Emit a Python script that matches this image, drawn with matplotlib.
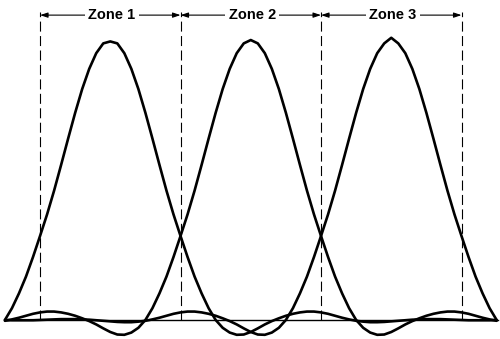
import numpy as np
import matplotlib
matplotlib.use("Agg")
import matplotlib.pyplot as plt

# positions along the strip, zone boundaries at 0, 1, 2, 3
pos = np.round(np.arange(-0.25, 3.2501, 0.05), 2)

zone_edges = [0, 1, 2, 3]
zone_labels = ["Zone 1", "Zone 2", "Zone 3"]

# response of each zone (peak = 1)
zone1 = [0.000, 0.042, 0.095, 0.155, 0.225, 0.300, 0.377, 0.462, 0.554, 0.648,
         0.740, 0.825, 0.897, 0.953, 0.988, 0.995, 0.988, 0.953, 0.897, 0.825,
         0.740, 0.648, 0.554, 0.462, 0.377, 0.300, 0.225, 0.155, 0.095, 0.042,
         0.000, -0.028, -0.045, -0.053, -0.052, -0.043, -0.030, -0.016, -0.004, 0.006,
         0.015, 0.022, 0.027, 0.030, 0.030, 0.027, 0.022, 0.015, 0.008, 0.002,
         -0.003, -0.006, -0.008, -0.008, -0.007, -0.005, -0.003, -0.001, 0.001, 0.002,
         0.003, 0.003, 0.003, 0.002, 0.001, 0.000, -0.001, -0.001, -0.001, -0.001,
         0.000]

zone2 = [-0.003, 0.002, 0.008, 0.015, 0.022, 0.027, 0.030, 0.030, 0.027, 0.022,
         0.015, 0.006, -0.004, -0.016, -0.030, -0.043, -0.052, -0.053, -0.045, -0.028,
         0.000, 0.042, 0.095, 0.155, 0.225, 0.300, 0.377, 0.462, 0.554, 0.648,
         0.740, 0.825, 0.897, 0.953, 0.988, 1.000, 0.988, 0.953, 0.897, 0.825,
         0.740, 0.648, 0.554, 0.462, 0.377, 0.300, 0.225, 0.155, 0.095, 0.042,
         0.000, -0.028, -0.045, -0.053, -0.052, -0.043, -0.030, -0.016, -0.004, 0.006,
         0.015, 0.022, 0.027, 0.030, 0.030, 0.027, 0.022, 0.015, 0.008, 0.002,
         -0.003]

zone3 = [0.000, -0.001, -0.001, -0.001, -0.001, 0.000, 0.001, 0.002, 0.003, 0.003,
         0.003, 0.002, 0.001, -0.001, -0.003, -0.005, -0.007, -0.008, -0.008, -0.006,
         -0.003, 0.002, 0.008, 0.015, 0.022, 0.027, 0.030, 0.030, 0.027, 0.022,
         0.015, 0.006, -0.004, -0.016, -0.030, -0.043, -0.052, -0.053, -0.045, -0.028,
         0.000, 0.042, 0.095, 0.155, 0.225, 0.300, 0.377, 0.462, 0.554, 0.648,
         0.740, 0.825, 0.897, 0.953, 0.988, 1.008, 0.988, 0.953, 0.897, 0.825,
         0.740, 0.648, 0.554, 0.462, 0.377, 0.300, 0.225, 0.155, 0.095, 0.042,
         0.000]

fig = plt.figure(figsize=(5.0, 3.39), dpi=100)
ax = fig.add_axes([0, 0, 1, 1])
ax.set_xlim(-0.285, 3.274)
ax.set_ylim(-0.068, 1.143)
ax.axis("off")

# baseline
ax.plot([-0.25, 3.26], [0, 0], color="black", lw=1.0)

for ys in (zone1, zone2, zone3):
    ax.plot(pos, ys, color="black", lw=1.9, solid_capstyle="round")

# zone boundaries
arrow_y = 1.089
for xe in zone_edges:
    ax.plot([xe, xe], [0, arrow_y + 0.01], color="black", lw=0.8,
            linestyle=(0, (9, 4)))

# zone arrows with labels
for i, lab in enumerate(zone_labels):
    ax.annotate("", xy=(zone_edges[i], arrow_y), xytext=(zone_edges[i + 1], arrow_y),
                arrowprops=dict(arrowstyle="<|-|>,head_length=0.45,head_width=0.15",
                                color="black", lw=0.8, shrinkA=0, shrinkB=0))
    ax.text((zone_edges[i] + zone_edges[i + 1]) / 2 + 0.01, arrow_y, lab,
            ha="center", va="center", fontsize=10.5, fontweight="bold",
            family="Liberation Sans",
            bbox=dict(facecolor="white", edgecolor="none", pad=2.5))

fig.savefig("out.png", dpi=100)
